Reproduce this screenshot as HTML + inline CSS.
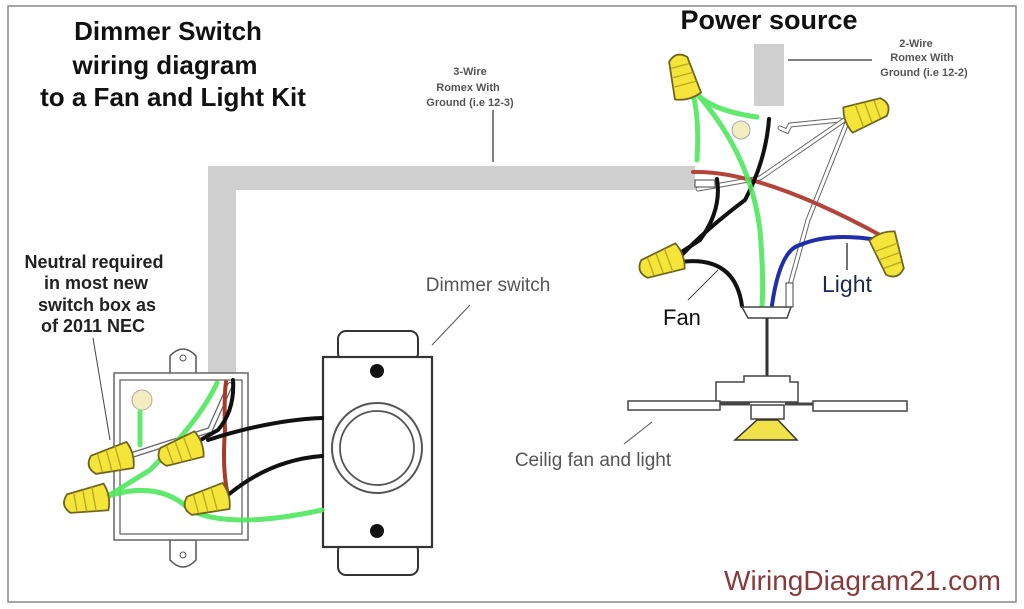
<!DOCTYPE html>
<html><head><meta charset="utf-8"><style>
html,body{margin:0;padding:0;background:#fff;}
svg{display:block;}
text{font-family:"Liberation Sans",sans-serif;}
</style></head><body>
<svg width="1024" height="609" viewBox="0 0 1024 609" xmlns="http://www.w3.org/2000/svg">
<defs>
<g id="nut"><path d="M0,-10 L28,-7 Q35,0 28,7 L0,10 Q-4,0 0,-10Z" fill="#f5e53a" stroke="#6d6420" stroke-width="1.3"/><path d="M9,-9 L9,9 M16,-8 L16,8 M23,-7 L23,7" stroke="#b8a820" stroke-width="1"/></g>
</defs>
<rect x="0" y="0" width="1024" height="609" fill="#fff"/>
<rect x="8" y="6" width="1008" height="596" fill="none" stroke="#888" stroke-width="1.5"/>

<g font-weight="bold" font-size="26" fill="#111" text-anchor="middle">
<text x="168" y="40">Dimmer Switch</text>
<text x="165" y="74">wiring diagram</text>
<text x="173" y="106">to a Fan and Light Kit</text>
<text x="769" y="29" font-size="27">Power source</text>
</g>
<g font-size="11" fill="#555" text-anchor="middle" font-weight="bold">
<text x="470" y="75">3-Wire</text><text x="468" y="91">Romex With</text><text x="470" y="106">Ground (i.e 12-3)</text>
<text x="916" y="47">2-Wire</text><text x="922" y="61">Romex With</text><text x="924" y="76">Ground (i.e 12-2)</text>
</g>
<line x1="493" y1="110" x2="493" y2="162" stroke="#555" stroke-width="1.5"/>
<line x1="788" y1="60" x2="872" y2="60" stroke="#555" stroke-width="1.5"/>
<g font-size="18" fill="#222" text-anchor="middle" font-weight="bold">
<text x="94" y="268">Neutral required</text><text x="96" y="289">in most  new</text><text x="97" y="311">switch box as</text><text x="93" y="332">of 2011 NEC</text>
</g>
<line x1="93" y1="338" x2="110" y2="440" stroke="#444" stroke-width="1"/>
<text x="488" y="291" font-size="19" fill="#555" text-anchor="middle">Dimmer switch</text>
<line x1="432" y1="345" x2="470" y2="305" stroke="#555" stroke-width="1"/>
<text x="593" y="466" font-size="19" fill="#555" text-anchor="middle">Ceilig fan and light</text>
<line x1="624" y1="444" x2="652" y2="422" stroke="#555" stroke-width="1"/>
<text x="663" y="325" font-size="22" fill="#111">Fan</text>
<line x1="688" y1="300" x2="718" y2="270" stroke="#444" stroke-width="1"/>
<text x="822" y="292" font-size="23" fill="#1a2a55">Light</text>
<line x1="847" y1="243" x2="847" y2="270" stroke="#444" stroke-width="1.5"/>
<text x="1001" y="590" font-size="28" fill="#8a3a3a" text-anchor="end">WiringDiagram21.com</text>

<path d="M208,166 H695 V190 H236 V378 H208 Z" fill="#cfcfcf"/>
<rect x="754" y="44" width="30" height="62" fill="#cfcfcf"/>

<path d="M170,375 V356 Q183,342 196,356 V375 Z" fill="#fff" stroke="#555" stroke-width="1.5"/>
<path d="M170,540 V560 Q183,574 196,560 V540 Z" fill="#fff" stroke="#555" stroke-width="1.5"/>
<circle cx="183" cy="358" r="3" fill="none" stroke="#555"/><circle cx="183" cy="555" r="3" fill="none" stroke="#555"/>
<rect x="114" y="373" width="134" height="167" fill="#fff" stroke="#666" stroke-width="1.5"/>
<rect x="120" y="380" width="122" height="154" fill="none" stroke="#666" stroke-width="1.3"/>
<circle cx="142" cy="400" r="10" fill="#f3ecc0" stroke="#aaa"/>

<rect x="338" y="331" width="80" height="30" rx="8" fill="#fff" stroke="#333" stroke-width="2"/>
<rect x="338" y="543" width="80" height="32" rx="8" fill="#fff" stroke="#333" stroke-width="2"/>
<rect x="323" y="357" width="109" height="190" fill="#fff" stroke="#333" stroke-width="2.2"/>
<circle cx="377" cy="448" r="45" fill="#fff" stroke="#555" stroke-width="2"/>
<circle cx="377" cy="448" r="37" fill="#fff" stroke="#555" stroke-width="1.8"/>
<circle cx="377" cy="371" r="7" fill="#111"/><circle cx="377" cy="531" r="7" fill="#111"/>

<g fill="none" stroke-linecap="round">
<path d="M230,385 L210,430 L160,446 L132,455" stroke="#666" stroke-width="6"/>
<path d="M230,385 L210,430 L160,446 L132,455" stroke="#fff" stroke-width="3.5"/>
<path d="M226,382 Q224,395 225,430 Q222,470 228,495" stroke="#a83a2a" stroke-width="4"/>
<path d="M233,380 Q235,410 218,430 L192,445" stroke="#111" stroke-width="4"/>
<path d="M208,440 Q270,420 322,418" stroke="#111" stroke-width="4"/>
<path d="M228,495 Q270,460 322,456" stroke="#111" stroke-width="4"/>
<g stroke="#4ee85e" stroke-width="5" opacity="0.9">
<path d="M217,383 Q200,420 150,470 L108,496"/>
<path d="M140,412 V445"/>
<path d="M108,496 Q160,480 190,510 Q230,530 322,510"/>
</g>
</g>
<use href="#nut" transform="translate(130,455) rotate(165) scale(1.35)"/>
<use href="#nut" transform="translate(106,497) rotate(170) scale(1.35)"/>
<use href="#nut" transform="translate(199,444) rotate(160) scale(1.35)"/>
<use href="#nut" transform="translate(226,496) rotate(165) scale(1.35)"/>

<g fill="none" stroke-linecap="round">
<path d="M780,128 L787,131 L790,125 L840,120" stroke="#666" stroke-width="5"/>
<path d="M780,128 L787,131 L790,125 L840,120" stroke="#fff" stroke-width="3"/>
<path d="M698,189 L760,178 L850,116" stroke="#666" stroke-width="5"/>
<path d="M698,189 L760,178 L850,116" stroke="#fff" stroke-width="3"/>
<path d="M790,285 L808,220 L848,120" stroke="#666" stroke-width="5"/>
<path d="M790,285 L808,220 L848,120" stroke="#fff" stroke-width="3"/>
<rect x="786" y="283" width="7" height="24" fill="#fff" stroke="#444"/>
<path d="M693,172 Q760,170 880,235" stroke="#b4443a" stroke-width="4"/>
<path d="M769,119 Q766,160 745,200 Q705,230 680,257" stroke="#111" stroke-width="4"/>
<path d="M717,179 Q722,210 700,240 L672,258" stroke="#111" stroke-width="4"/>
<path d="M680,262 Q735,255 742,306" stroke="#111" stroke-width="4"/>
<path d="M772,305 Q780,250 800,245 Q830,232 878,240" stroke="#1e2fa8" stroke-width="4"/>
<g stroke="#4ee85e" stroke-width="5" opacity="0.9">
<path d="M690,86 Q705,110 757,117"/>
<path d="M690,86 Q700,110 697,160"/>
<path d="M690,86 Q750,150 760,230 Q764,280 762,306"/>
</g>
</g>
<use href="#nut" transform="translate(688,96) rotate(-105) scale(1.35)"/>
<use href="#nut" transform="translate(848,120) rotate(-20) scale(1.35)"/>
<use href="#nut" transform="translate(680,256) rotate(160) scale(1.35)"/>
<use href="#nut" transform="translate(882,236) rotate(70) scale(1.35)"/>
<circle cx="741" cy="130" r="9" fill="#f3ecc0" stroke="#aaa"/>
<rect x="695" y="180" width="20" height="7" fill="#fff" stroke="#444"/>

<path d="M742,307 H791 L787,318 H748 Z" fill="#fff" stroke="#444" stroke-width="1.5"/>
<line x1="767" y1="318" x2="767" y2="376" stroke="#333" stroke-width="3"/>
<path d="M744,376 H790 V382 H798 V402 H716 V382 H744 Z" fill="#fff" stroke="#444" stroke-width="1.5"/>
<rect x="628" y="401" width="92" height="9" fill="#fff" stroke="#444" stroke-width="1.5"/>
<rect x="813" y="401" width="94" height="10" fill="#fff" stroke="#444" stroke-width="1.5"/>
<path d="M720,404 H750 M785,404 H813" stroke="#444" stroke-width="3"/>
<rect x="751" y="405" width="33" height="14" fill="#fff" stroke="#444" stroke-width="1.5"/>
<path d="M757,420 H778 L797,440 H735 Z" fill="#f0e04a" stroke="#333" stroke-width="1.5"/>
</svg>
</body></html>
